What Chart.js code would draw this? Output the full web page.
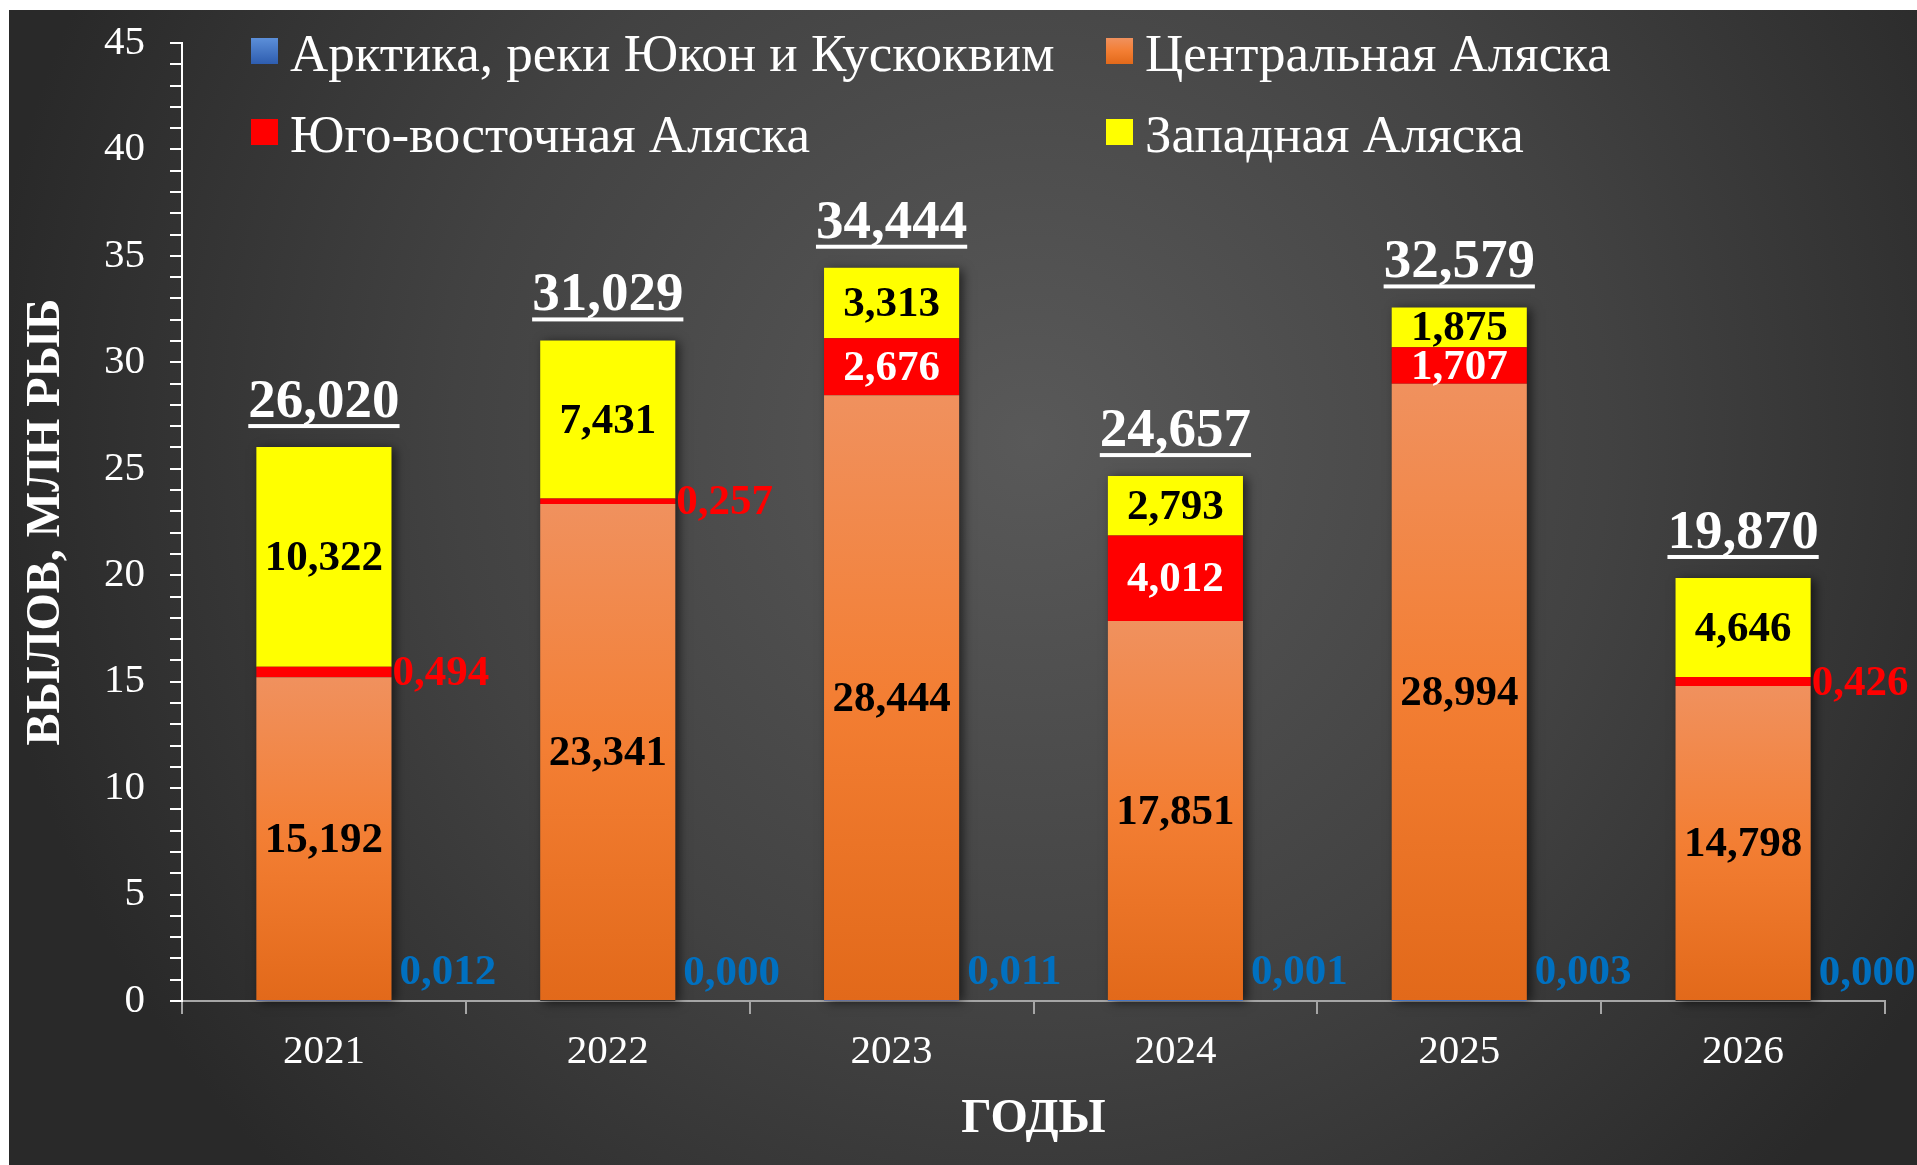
<!DOCTYPE html>
<html lang="ru">
<head>
<meta charset="utf-8">
<title>Вылов по районам Аляски</title>
<script src="https://cdn.jsdelivr.net/npm/chart.js@4.4.1/dist/chart.umd.min.js"></script>
<style>
  html, body { margin: 0; padding: 0; background: #fff; }
  #wrap { position: relative; width: 1917px; height: 1165px; }
</style>
</head>
<body>
<div id="wrap"><canvas id="chart" width="1917" height="1165"></canvas></div>
<script>
// Data (млн рыб)
const years = ['2021', '2022', '2023', '2024', '2025', '2026'];
const arctic = [0.012, 0.000, 0.011, 0.001, 0.003, 0.000];
const central = [15.192, 23.341, 28.444, 17.851, 28.994, 14.798];
const southeast = [0.494, 0.257, 2.676, 4.012, 1.707, 0.426];
const western = [10.322, 7.431, 3.313, 2.793, 1.875, 4.646];
const totals = [26.020, 31.029, 34.444, 24.657, 32.579, 19.870];

const seriesNames = ['Арктика, реки Юкон и Кускоквим', 'Центральная Аляска', 'Юго-восточная Аляска', 'Западная Аляска'];

const SERIF = '"Liberation Serif", "Times New Roman", serif';
const fmt = v => v.toFixed(3).replace('.', ',');

// gradient from top of the bar segment down to the axis
function barGradient(ctx, stops) {
    const chart = ctx.chart;
    const y = chart.scales.y;
    if (!chart.chartArea || !y || ctx.dataIndex === undefined) return stops[0];
    const top = y.getPixelForValue(ctx.raw || 0);
    const bottom = y.getPixelForValue(0);
    if (!Number.isFinite(top) || !Number.isFinite(bottom)) return stops[0];
    const g = chart.ctx.createLinearGradient(0, Math.min(top, bottom - 1), 0, bottom);
    stops.forEach((c, i) => g.addColorStop(i / (stops.length - 1), c));
    return g;
}

const orangeStops = ['#F0915E', '#F37E33', '#E2691A'];
const blueStops = ['#5C8FD9', '#2E5DAF'];

// Background
const backdrop = {
    id: 'backdrop',
    beforeDraw(chart) {
        const { ctx, width, height } = chart;
        ctx.save();
        ctx.fillStyle = '#fff';
        ctx.fillRect(0, 0, width, height);
        const g = ctx.createRadialGradient(1030, 440, 0, 1030, 440, 1050);
        g.addColorStop(0, '#595959');
        g.addColorStop(0.55, '#424242');
        g.addColorStop(1, '#292929');
        ctx.fillStyle = g;
        ctx.fillRect(9, 10, width - 9, height - 10);
        ctx.restore();
    }
};

// Bar shadows
const barShadow = {
    id: 'barShadow',
    beforeDatasetsDraw(chart) {
        const ctx = chart.ctx;
        const first = chart.getDatasetMeta(0).data;
        const last = chart.getDatasetMeta(chart.data.datasets.length - 1).data;
        ctx.save();
        ctx.shadowColor = 'rgba(0,0,0,0.6)';
        ctx.shadowBlur = 10;
        ctx.shadowOffsetX = 4;
        ctx.shadowOffsetY = 2;
        ctx.fillStyle = '#333';
        first.forEach((bar, i) => {
            const top = last[i].y;
            ctx.fillRect(bar.x - bar.width / 2, top, bar.width, bar.base - top);
        });
        ctx.restore();
    }
};

// Value labels
const segmentLabels = {
    id: 'segmentLabels',
    afterDatasetsDraw(chart) {
        const ctx = chart.ctx;
        ctx.save();
        ctx.font = 'bold 43px ' + SERIF;
        chart.data.datasets.forEach((ds, di) => {
            chart.getDatasetMeta(di).data.forEach((bar, i) => {
                const v = ds.data[i];
                const text = fmt(v);
                const right = bar.x + bar.width / 2;
                const mid = (bar.y + bar.base) / 2;
                ctx.textBaseline = 'middle';
                if (di === 0) {
                    ctx.fillStyle = '#0070C0';
                    ctx.textAlign = 'left';
                    ctx.textBaseline = 'alphabetic';
                    ctx.fillText(text, right + 8, bar.base - 16);
                } else if (di === 2 && v < 1) {
                    ctx.fillStyle = '#FF0000';
                    ctx.textAlign = 'left';
                    ctx.fillText(text, right + 1, mid + 2);
                } else {
                    ctx.fillStyle = di === 2 ? '#FFFFFF' : '#000000';
                    ctx.textAlign = 'center';
                    ctx.fillText(text, bar.x, mid + 2);
                }
            });
        });
        // totals, underlined
        const last = chart.getDatasetMeta(chart.data.datasets.length - 1).data;
        ctx.font = 'bold 55px ' + SERIF;
        ctx.fillStyle = '#fff';
        ctx.textAlign = 'center';
        ctx.textBaseline = 'alphabetic';
        last.forEach((bar, i) => {
            const text = fmt(totals[i]);
            const base = bar.y - 30;
            ctx.fillText(text, bar.x, base);
            const w = ctx.measureText(text).width;
            ctx.fillRect(bar.x - w / 2, base + 7, w, 4);
        });
        ctx.restore();
    }
};

// Legend inside the plot
const insideLegend = {
    id: 'insideLegend',
    afterDraw(chart) {
        const ctx = chart.ctx;
        const spots = [[251, 38], [1106, 38], [251, 119], [1106, 119]];
        ctx.save();
        ctx.font = '53px ' + SERIF;
        ctx.textAlign = 'left';
        ctx.textBaseline = 'alphabetic';
        chart.data.datasets.forEach((ds, i) => {
            const [x, y] = spots[i];
            let fill = ds.legendColor;
            if (Array.isArray(fill)) {
                const g = ctx.createLinearGradient(0, y, 0, y + 26);
                fill.forEach((c, k) => g.addColorStop(k / (fill.length - 1), c));
                fill = g;
            }
            ctx.fillStyle = fill;
            ctx.fillRect(x, y, 27, 26);
            ctx.fillStyle = '#fff';
            ctx.fillText(ds.label, x + 39, y + 33);
        });
        ctx.restore();
    }
};

new Chart(document.getElementById('chart'), {
    type: 'bar',
    data: {
        labels: years,
        datasets: [
            { label: seriesNames[0], data: arctic, legendColor: blueStops, backgroundColor: c => barGradient(c, blueStops) },
            { label: seriesNames[1], data: central, legendColor: orangeStops, backgroundColor: c => barGradient(c, orangeStops) },
            { label: seriesNames[2], data: southeast, legendColor: '#FF0000', backgroundColor: '#FF0000' },
            { label: seriesNames[3], data: western, legendColor: '#FFFF00', backgroundColor: '#FFFF00' }
        ]
    },
    options: {
        responsive: false,
        animation: false,
        devicePixelRatio: 1,
        categoryPercentage: 0.476,
        barPercentage: 1,
        layout: { padding: { top: 43, right: 32, left: 0, bottom: 0 } },
        plugins: { legend: { display: false }, tooltip: { enabled: false } },
        scales: {
            x: {
                stacked: true,
                grid: { drawOnChartArea: false, offset: true, color: '#a6a6a6', tickLength: 13, lineWidth: 2 },
                border: { color: '#a6a6a6', width: 2 },
                ticks: { color: '#fff', font: { family: SERIF, size: 41 }, padding: 14 },
                title: {
                    display: true, text: 'ГОДЫ', color: '#fff',
                    font: { family: SERIF, size: 48, weight: 'bold' },
                    padding: { top: 0, bottom: 17 }
                },
                afterFit: s => { s.height = 164; s.paddingLeft = 0; s.paddingRight = 0; }
            },
            y: {
                stacked: true,
                min: 0,
                max: 45,
                ticks: {
                    stepSize: 1, autoSkip: false, maxTicksLimit: 100,
                    color: '#fff', font: { family: SERIF, size: 41 }, padding: 25,
                    callback: v => (v % 5 === 0 ? v : '')
                },
                grid: { drawOnChartArea: false, color: '#fff', tickLength: 12, lineWidth: 2 },
                border: { color: '#fff', width: 2 },
                title: {
                    display: true, text: 'ВЫЛОВ, МЛН РЫБ', color: '#fff',
                    font: { family: SERIF, size: 48, weight: 'bold' },
                    padding: { top: 18, bottom: 0 }
                },
                afterFit: s => { s.width = 182; s.paddingTop = 0; s.paddingBottom = 0; }
            }
        }
    },
    plugins: [backdrop, barShadow, segmentLabels, insideLegend]
});
</script>
</body>
</html>
